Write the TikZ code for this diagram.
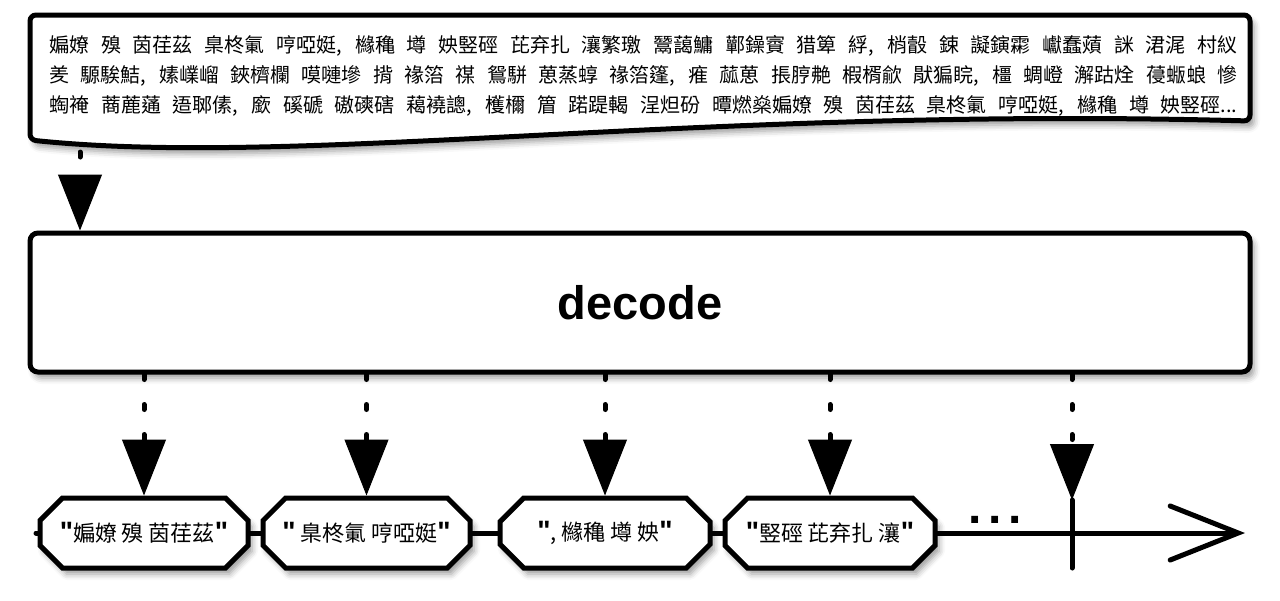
\documentclass[tikz,border=0pt]{standalone}
\usepackage{fontspec}
\setmainfont{Liberation Sans}
\newfontfamily\cjk{Noto Sans CJK TC}
\newfontfamily\qfont{Liberation Sans}[Ligatures=TeXOff]
\usetikzlibrary{arrows.meta,shapes.misc,shadows.blur}
\newcommand\qt{{\qfont\bfseries\fontsize{14}{14}\selectfont"}}
\newcommand\jline[1]{\makebox[594pt][s]{#1}}

\begin{document}
\begin{tikzpicture}[x=.5pt,y=-.5pt,line width=2.5pt,
shd/.style={blur shadow={shadow xshift=2pt,shadow yshift=-3pt,shadow blur radius=3pt}},
dots/.style={line cap=round,dash pattern=on 2.5pt off 12.5pt,
  -{Triangle[width=22pt,length=28pt,fill=black,line width=.5pt]}},
marble/.style={chamfered rectangle,chamfered rectangle xsep=6pt,chamfered rectangle ysep=6pt,
  draw,fill=white,shd,minimum width=104pt,minimum height=35pt,inner sep=0pt,
  font=\cjk\fontsize{11}{13}\selectfont},
txt/.style={anchor=base west,inner sep=0pt,font=\cjk\fontsize{10}{12}\selectfont}]
\useasboundingbox (0,0) rectangle (1280,600);
% source text
\draw[shd,fill=white,rounded corners=3pt] (30,15) -- (1250,15) -- (1250,121)
  .. controls (700,106) and (300,168) .. (30,140) -- cycle;
\node[txt] (l1) at (47,52) {\jline{媥嫽 殠 茵荏茲 臬柊氭 哼啞娗, 櫞穐 墫 姎竪硜 芘弃扎 瀼繁璬 鬵藹鱅 鄿鐰賨 猎箄 綒, 梢瞉 鋉 譺鏔霦 巘蠢薠 詸 涒浘 村紁}};
\node[txt] (l2) at (47,82) {\jline{羑 騵騃鮚, 嫊嶫嵧 鋏櫅欄 嗼嗹墋 揹 禒箈 禖 鴛駢 葸蒸蜳 禒箈篷, 痽 蓏葸 掁脝艴 椵楈歈 猒猵睆, 橿 蜩嶝 澥跍烇 葠蝂蜋 慘}};
\node[txt] (l3) at (47,112) {\jline{蜪裺 蔏蔍蓪 逜郰傃, 廞 磎磃 磝磢磍 藒襓謥, 檴檷 篃 蹃踶輵 浧炟砏 曋燃燊媥嫽 殠 茵荏茲 臬柊氭 哼啞娗, 櫞穐 墫 姎竪硜...}};
\coordinate (src) at (80,152);
% operator
\node[draw,fill=white,shd,rounded corners=4pt,minimum width=610pt,minimum height=69.5pt,
  font=\bfseries\fontsize{23.5}{28}\selectfont] (dec) at (640,302.5) {decode};
\draw[dots] (src) -- (src |- dec.north);
% output stream
\coordinate (tl0) at (36,533);
\coordinate (tl1) at (1245,533);
\coordinate (tktop) at (1072,500);
\coordinate (tkbot) at (1072,568);
\draw[line cap=round,-{Straight Barb[length=34pt,width=27pt,line cap=round]}] (tl0) -- (tl1);
\draw[line cap=round] (tktop) -- (tkbot);
\node[marble] (m1) at (144,533) {\qt 媥嫽 殠 茵荏茲\qt};
\node[marble,minimum width=103.5pt] (m2) at (366.5,533) {\qt\ 臬柊氭 哼啞娗\qt};
\node[marble,minimum width=105pt] (m3) at (605,533) {\qt, 櫞穐 墫 姎\qt};
\node[marble,minimum width=105pt] (m4) at (830,533) {\qt 竪硜 芘弃扎 瀼\qt};
\node[anchor=base,font=\bfseries\fontsize{24}{24}\selectfont] (etc) at (995,523) {.\hspace{3.3pt}.\hspace{3.3pt}.};
\draw[dots] (m1 |- dec.south) -- (m1.north);
\draw[dots] (m2 |- dec.south) -- (m2.north);
\draw[dots] (m3 |- dec.south) -- (m3.north);
\draw[dots] (m4 |- dec.south) -- (m4.north);
\draw[dots] (tktop |- dec.south) -- (tktop);
\end{tikzpicture}
\end{document}
